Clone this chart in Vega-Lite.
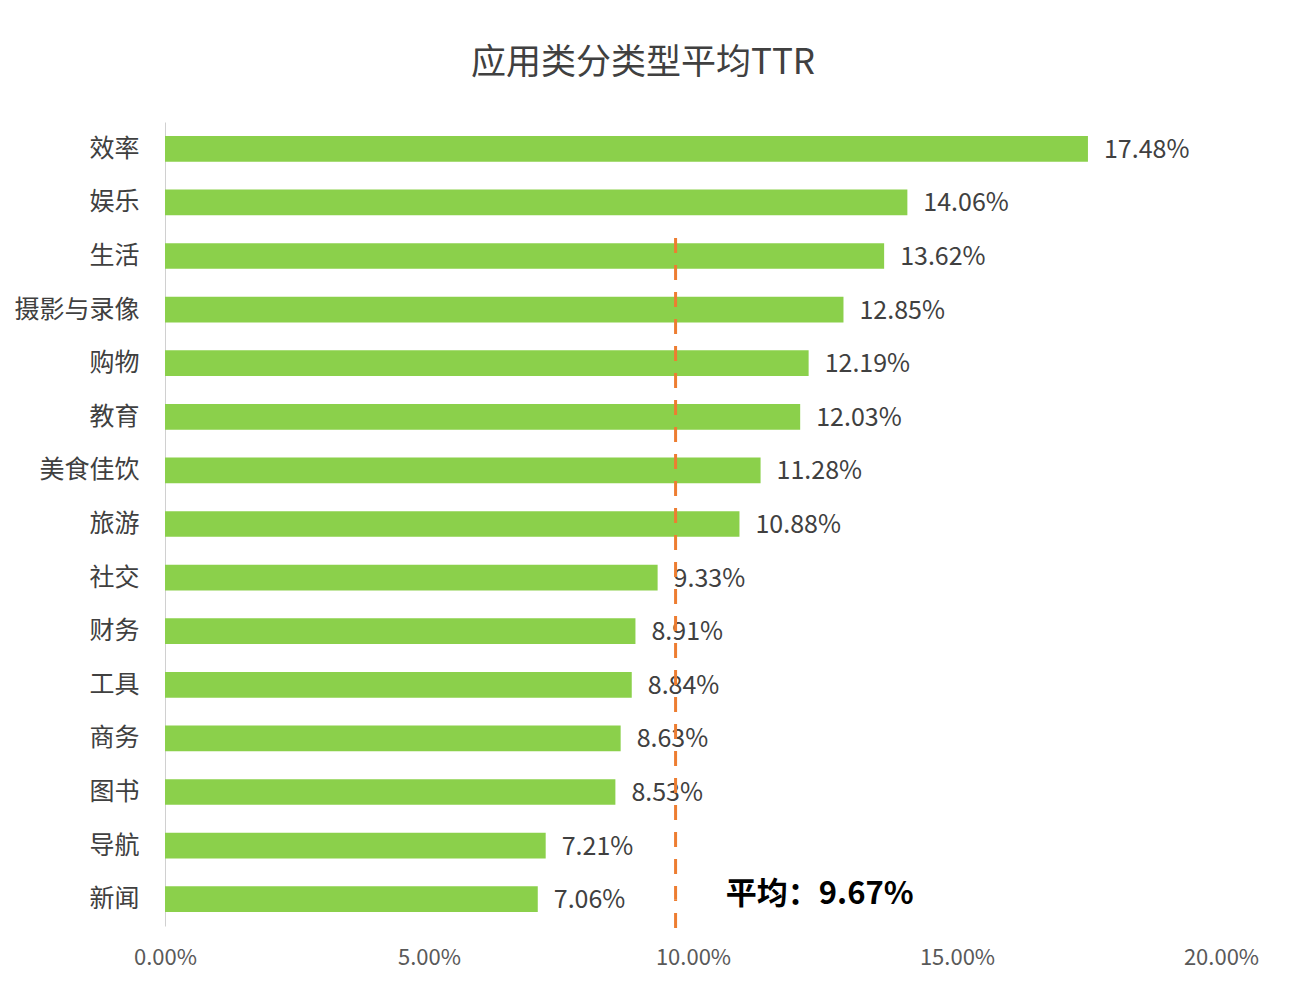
{
  "$schema": "https://vega.github.io/schema/vega-lite/v6.json",
  "width": 1056,
  "height": 804,
  "autosize": {"type": "none"},
  "padding": {"left": 165, "top": 122, "right": 95, "bottom": 70},
  "background": "#ffffff",
  "title": {
    "text": "应用类分类型平均TTR",
    "font": "Noto Sans CJK SC",
    "fontSize": 35,
    "fontWeight": "normal",
    "color": "#404040",
    "anchor": "middle",
    "dx": -50,
    "offset": 41
  },
  "config": {
    "view": {"stroke": null},
    "font": "Noto Sans CJK SC"
  },
  "datasets": {
    "bars": [
      {"category": "效率", "ttr": 0.1748},
      {"category": "娱乐", "ttr": 0.1406},
      {"category": "生活", "ttr": 0.1362},
      {"category": "摄影与录像", "ttr": 0.1285},
      {"category": "购物", "ttr": 0.1219},
      {"category": "教育", "ttr": 0.1203},
      {"category": "美食佳饮", "ttr": 0.1128},
      {"category": "旅游", "ttr": 0.1088},
      {"category": "社交", "ttr": 0.0933},
      {"category": "财务", "ttr": 0.0891},
      {"category": "工具", "ttr": 0.0884},
      {"category": "商务", "ttr": 0.0863},
      {"category": "图书", "ttr": 0.0853},
      {"category": "导航", "ttr": 0.0721},
      {"category": "新闻", "ttr": 0.0706}
    ],
    "avg": [
      {"value": 0.0967, "from": "生活", "to": "新闻", "label": "平均：9.67%", "labelX": 0.124}
    ]
  },
  "layer": [
    {
      "data": {"name": "bars"},
      "mark": {"type": "bar", "color": "#8bd04b"},
      "encoding": {
        "y": {
          "field": "category",
          "type": "nominal",
          "sort": null,
          "scale": {"paddingInner": 0.52, "paddingOuter": 0.26},
          "axis": {
            "title": null,
            "ticks": false,
            "labelPadding": 26,
            "labelFontSize": 25,
            "labelColor": "#404040",
            "labelFont": "Noto Sans CJK SC",
            "domainColor": "#d0d0d0",
            "domainWidth": 1
          }
        },
        "x": {
          "field": "ttr",
          "type": "quantitative",
          "scale": {"domain": [0, 0.2]},
          "axis": {
            "title": null,
            "values": [0, 0.05, 0.1, 0.15, 0.2],
            "format": ".2%",
            "grid": false,
            "domain": false,
            "ticks": false,
            "labelFlush": false,
            "labelOverlap": false,
            "labelBound": false,
            "labelPadding": 21,
            "labelFontSize": 22,
            "labelColor": "#595959",
            "labelFont": "Noto Sans CJK SC"
          }
        }
      }
    },
    {
      "data": {"name": "bars"},
      "mark": {"type": "text", "align": "left", "baseline": "middle", "dx": 16, "dy": 1, "fontSize": 25, "color": "#404040", "font": "Noto Sans CJK SC"},
      "encoding": {
        "y": {"field": "category", "type": "nominal", "sort": null},
        "x": {"field": "ttr", "type": "quantitative"},
        "text": {"field": "ttr", "type": "quantitative", "format": ".2%"}
      }
    },
    {
      "data": {"name": "avg"},
      "mark": {"type": "rule", "color": "#ed7d31", "strokeWidth": 3, "strokeDash": [15, 12]},
      "encoding": {
        "x": {"field": "value", "type": "quantitative"},
        "y": {"field": "from", "type": "nominal", "sort": null, "bandPosition": -0.2},
        "y2": {"field": "to"}
      }
    },
    {
      "data": {"name": "avg"},
      "mark": {"type": "rule", "color": "#ed7d31", "strokeWidth": 3, "strokeDash": [15, 12]},
      "encoding": {
        "x": {"field": "value", "type": "quantitative"},
        "y": {"field": "to", "type": "nominal", "sort": null, "bandPosition": 1.62},
        "y2": {"field": "to"}
      }
    },
    {
      "data": {"name": "avg"},
      "mark": {"type": "text", "align": "center", "baseline": "middle", "dy": -4, "fontSize": 31, "fontWeight": "bold", "color": "#000000", "font": "Noto Sans CJK SC"},
      "encoding": {
        "x": {"field": "labelX", "type": "quantitative"},
        "y": {"field": "to", "type": "nominal", "sort": null},
        "text": {"field": "label", "type": "nominal"}
      }
    }
  ]
}
